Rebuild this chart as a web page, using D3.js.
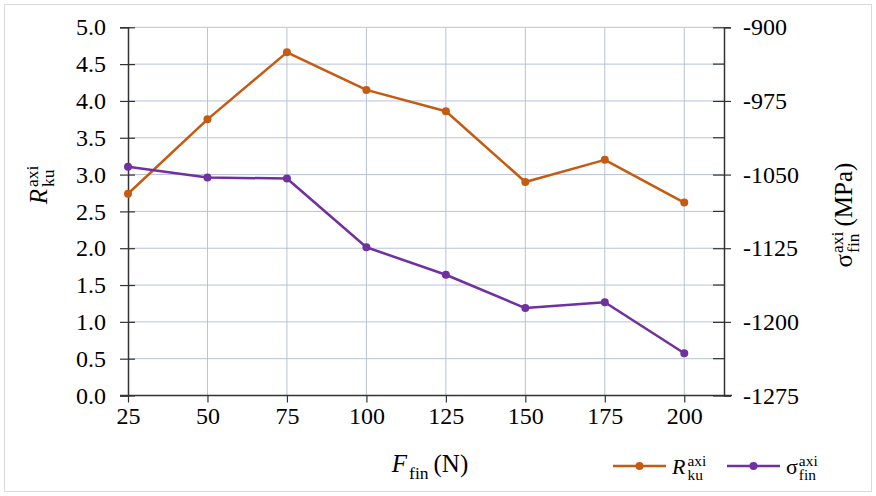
<!DOCTYPE html>
<html>
<head>
<meta charset="utf-8">
<script src="https://cdn.jsdelivr.net/npm/d3@7"></script>
<style>
  body { margin: 0; background: #fff; }
  svg { display: block; }
  svg text { font-family: "Liberation Serif", "Times New Roman", serif; }
</style>
</head>
<body>
<div id="chart"></div>
<script>
// data
const forces = [25, 50, 75, 100, 125, 150, 175, 200];
const rku = [2.74, 3.75, 4.66, 4.15, 3.86, 2.90, 3.20, 2.62];
const sigma = [-1042, -1053, -1054, -1124, -1152, -1186, -1180, -1232];
const leftTicks = [0, 0.5, 1, 1.5, 2, 2.5, 3, 3.5, 4, 4.5, 5];
const rightTicks = [-900, -975, -1050, -1125, -1200, -1275];
const rightMinor = [-937.5, -1012.5, -1087.5, -1162.5, -1237.5];

const W = 876, H = 496;
const orange = "#c55a11", purple = "#7030a0";
const gridColor = "#b8c2d8", axisColor = "#333";

const svg = d3.select("#chart").append("svg")
    .attr("width", W).attr("height", H);

// outer frame
svg.append("rect")
    .attr("x", 4.5).attr("y", 4.5).attr("width", W - 9).attr("height", H - 9)
    .attr("fill", "#fff").attr("stroke", "#d9d9d9");

const x = d3.scaleLinear().domain([25, 212.5]).range([128, 724]);
const yL = d3.scaleLinear().domain([0, 5]).range([395.5, 27.3]);
const yR = d3.scaleLinear().domain([-1275, -900]).range([395.5, 27.3]);

// grid
svg.append("g").selectAll("line").data(forces.slice(1)).enter().append("line")
    .attr("x1", d => x(d)).attr("x2", d => x(d))
    .attr("y1", yL(0)).attr("y2", yL(5))
    .attr("stroke", gridColor).attr("stroke-width", 1);
svg.append("g").selectAll("line").data(leftTicks.slice(1)).enter().append("line")
    .attr("x1", x(25)).attr("x2", x(212.5))
    .attr("y1", d => yL(d)).attr("y2", d => yL(d))
    .attr("stroke", gridColor).attr("stroke-width", 1);

// left axis
const gL = svg.append("g").attr("transform", `translate(${x(25)},0)`)
    .call(d3.axisLeft(yL).tickValues(leftTicks).tickFormat(d3.format(".1f")).tickSize(8).tickPadding(14));
gL.selectAll(".tick line").attr("x1", 7);

// bottom axis
const gB = svg.append("g").attr("transform", `translate(0,${yL(0)})`)
    .call(d3.axisBottom(x).tickValues(forces).tickFormat(d => String(d)).tickSize(7).tickPadding(4));

// right axis
const gR = svg.append("g").attr("transform", `translate(${x(212.5)},0)`)
    .call(d3.axisRight(yR).tickValues(rightTicks).tickFormat(d => String(d)).tickSize(7).tickPadding(12));
gR.selectAll(".tick line").attr("x1", -11);
gR.selectAll(".minor").data(rightMinor).enter().append("line")
    .attr("class", "minor")
    .attr("x1", -11).attr("x2", 0)
    .attr("y1", d => yR(d)).attr("y2", d => yR(d))
    .attr("stroke", axisColor).attr("stroke-width", 1.2);

[gL, gB, gR].forEach(g => {
  g.attr("font-family", null).attr("font-size", null);
  g.selectAll(".tick text").style("font-size", "24px").attr("fill", "#000");
  g.select(".domain").attr("stroke", axisColor).attr("stroke-width", 1.5);
  g.selectAll(".tick line").attr("stroke", axisColor).attr("stroke-width", 1.2);
});
gB.select(".domain").attr("d", `M120,0H732`);

// series
function drawSeries(vals, yScale, color) {
  const pts = forces.map((f, i) => [x(f), yScale(vals[i])]);
  svg.append("path").datum(pts)
      .attr("d", d3.line())
      .attr("fill", "none").attr("stroke", color).attr("stroke-width", 2.5)
      .attr("stroke-linejoin", "round");
  svg.append("g").selectAll("circle").data(pts).enter().append("circle")
      .attr("cx", d => d[0]).attr("cy", d => d[1]).attr("r", 4)
      .attr("fill", color);
}
drawSeries(rku, yL, orange);
drawSeries(sigma, yR, purple);

// math-like label: base + stacked sup/sub + suffix
function mathLabel(parent, base, italic, sup, sub, suffix, fs) {
  const g = parent.append("g");
  const b = g.append("text").style("font-size", fs + "px").attr("font-style", italic ? "italic" : "normal").text(base);
  let w = b.node().getComputedTextLength() + (italic ? 2 : 1);
  const s1 = g.append("text").attr("x", w).attr("y", -fs * 0.36).style("font-size", fs * 0.7 + "px").text(sup);
  const s2 = g.append("text").attr("x", w).attr("y", fs * 0.28).style("font-size", fs * 0.7 + "px").text(sub);
  w += Math.max(s1.node().getComputedTextLength(), s2.node().getComputedTextLength());
  if (suffix) {
    const t = g.append("text").attr("x", w + 5).style("font-size", fs + "px").text(suffix);
    w += 5 + t.node().getComputedTextLength();
  }
  g.selectAll("text").attr("fill", "#000");
  return { g, w };
}

// axis titles
const xt = mathLabel(svg, "F", true, "", "fin", "(N)", 25);
xt.g.attr("transform", `translate(${430 - xt.w / 2},472)`);

const yt = mathLabel(svg, "R", true, "axi", "ku", "", 25);
yt.g.attr("transform", `translate(47,${185 + yt.w / 2}) rotate(-90)`);

const rt = mathLabel(svg, "σ", false, "axi", "fin", "(MPa)", 25);
rt.g.attr("transform", `translate(852,${215 + rt.w / 2}) rotate(-90)`);

// legend
const legend = [
  { label: "R", italic: true, sub: "ku", color: orange, x0: 613 },
  { label: "σ", italic: false, sub: "fin", color: purple, x0: 727 }
];
legend.forEach(d => {
  const g = svg.append("g").attr("transform", `translate(${d.x0},466)`);
  g.append("line").attr("x1", 0).attr("x2", 53).attr("stroke", d.color).attr("stroke-width", 2.5);
  g.append("circle").attr("cx", 26.5).attr("r", 4).attr("fill", d.color);
  const m = mathLabel(g, d.label, d.italic, "axi", d.sub, "", 22);
  m.g.attr("transform", "translate(59,8)");
});
</script>
</body>
</html>
